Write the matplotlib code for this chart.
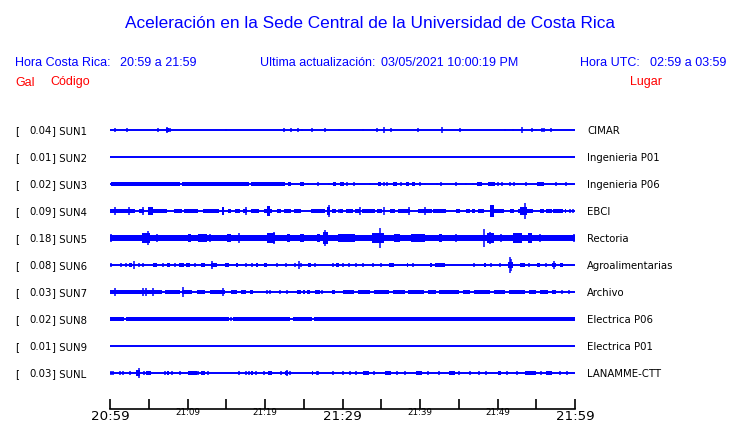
import matplotlib
matplotlib.use("Agg")
import matplotlib.pyplot as plt

# ---------------------------------------------------------------------------
# data
# ---------------------------------------------------------------------------
codes = ["SUN1", "SUN2", "SUN3", "SUN4", "SUN5", "SUN6", "SUN7", "SUN8", "SUN9", "SUNL"]
gal = ["0.04", "0.01", "0.02", "0.09", "0.18", "0.08", "0.03", "0.02", "0.01", "0.03"]
places = ["CIMAR", "Ingenieria P01", "Ingenieria P06", "EBCI", "Rectoria",
          "Agroalimentarias", "Archivo", "Electrica P06", "Electrica P01", "LANAMME-CTT"]

tick_minutes = [0, 5, 10, 15, 20, 25, 30, 35, 40, 45, 50, 55, 60]
tick_labels = ["20:59", "", "21:09", "", "21:19", "", "21:29", "", "21:39", "", "21:49", "", "21:59"]
big_labels = ["20:59", "21:29", "21:59"]

# bursts of shaking: (start minute, end minute, half amplitude)
# spikes: (minute, half amplitude)
sun1_bands = [(7.2, 7.6, 3)]
sun1_spikes = [(0.7, 2), (2.2, 2), (6.2, 2), (7.4, 4), (7.8, 2), (15.0, 1.5), (22.5, 2),
               (23.4, 2), (24.3, 2), (24.8, 1.5), (26.0, 2), (27.8, 2), (29.6, 1.5),
               (32.7, 1), (34.5, 2), (35.4, 4), (36.2, 2), (39.7, 2), (42.9, 4), (45.1, 2),
               (51.0, 1.5), (52.0, 1.5), (53.2, 4), (54.4, 2), (55.0, 1.5), (55.7, 2),
               (56.0, 2), (56.9, 2)]

sun2_bands = []
sun2_spikes = []

sun3_bands = [(0.1, 9.0, 2.5), (9.3, 17.9, 2.5), (18.2, 22.6, 2.5), (23.0, 23.3, 2),
              (24.5, 25.0, 2.5), (28.8, 29.2, 2), (29.7, 30.2, 2.5), (34.6, 35.0, 2.5),
              (36.5, 37.0, 2.5), (38.2, 38.6, 2.5), (39.0, 39.4, 2.5), (47.4, 48.0, 2.5),
              (48.8, 49.7, 2.5), (55.1, 56.0, 2.5)]
sun3_spikes = [(25.6, 1.5), (26.8, 2), (28.2, 1.5), (30.6, 2), (31.5, 2), (33.5, 1.5),
               (35.3, 2), (35.7, 2), (37.6, 2), (40.0, 2), (40.6, 1.5), (42.2, 1.5),
               (42.7, 2), (44.6, 2), (45.9, 1), (46.8, 1.5), (50.1, 2), (50.6, 2),
               (51.6, 2), (52.1, 2), (52.7, 1.5), (53.7, 2), (57.6, 2), (58.1, 1.5),
               (58.9, 2)]

sun4_bands = [(0.0, 3.2, 3), (3.7, 4.4, 3), (4.9, 5.6, 5), (5.6, 7.4, 3), (8.2, 9.3, 3),
              (9.6, 11.4, 3), (12.0, 14.0, 3), (14.4, 14.7, 5), (15.2, 15.6, 3),
              (16.1, 16.8, 3), (17.1, 17.7, 3), (18.2, 19.2, 3), (19.9, 20.9, 3),
              (20.3, 20.6, 6), (21.5, 22.1, 3), (22.4, 23.3, 3), (23.8, 24.7, 3),
              (25.9, 27.7, 3), (28.0, 28.4, 5), (28.6, 29.1, 3), (29.7, 30.0, 3),
              (30.5, 31.4, 3), (31.6, 32.3, 3), (32.5, 34.2, 3), (34.5, 35.1, 3),
              (36.1, 36.8, 3), (37.2, 38.7, 3), (39.7, 41.5, 3), (41.7, 43.4, 3),
              (44.7, 45.2, 3), (45.9, 46.5, 3), (46.7, 47.1, 3), (47.5, 48.2, 3),
              (49.0, 49.5, 7), (49.5, 50.8, 3), (51.6, 52.1, 3), (52.7, 54.6, 3),
              (52.9, 53.8, 5), (55.5, 56.0, 3), (56.3, 57.0, 3), (57.2, 58.4, 3),
              (58.7, 58.9, 3)]
sun4_spikes = [(0.6, 5), (2.4, 5), (4.3, 5), (17.6, 5), (20.5, 6), (28.2, 7), (29.6, 3),
               (32.2, 5), (35.3, 5), (38.6, 5), (40.7, 5), (49.2, 8), (53.5, 10),
               (59.4, 2), (59.8, 2)]

sun5_bands = [(0.0, 60.0, 4), (4.1, 5.2, 6), (10.1, 10.5, 5), (11.4, 12.5, 5),
              (15.1, 15.6, 5), (20.2, 21.3, 6), (22.8, 23.2, 5), (24.5, 25.0, 5),
              (26.7, 27.1, 5), (27.5, 28.1, 7), (29.4, 31.6, 5), (33.8, 35.3, 6),
              (36.6, 37.4, 5), (38.9, 40.6, 5), (42.4, 42.8, 5), (48.6, 49.5, 6),
              (52.0, 53.1, 6), (53.9, 54.4, 6)]
sun5_spikes = [(0.1, 5), (4.9, 9), (6.0, 5), (12.9, 5), (16.6, 6), (21.1, 8), (27.7, 10),
               (34.8, 12), (44.7, 5), (48.3, 11.5), (49.0, 8), (50.5, 5), (55.5, 5),
               (59.9, 5)]

sun6_bands = [(2.4, 2.8, 3), (5.6, 6.1, 3), (7.4, 7.7, 3), (8.9, 9.6, 3), (9.8, 10.3, 3),
              (11.8, 12.2, 3), (13.0, 13.8, 3), (14.8, 15.4, 3), (16.2, 16.5, 3),
              (18.9, 19.1, 3), (19.9, 20.3, 3), (25.6, 25.9, 3), (29.2, 29.5, 3),
              (36.0, 36.6, 3), (38.3, 38.5, 3), (41.3, 41.5, 3), (41.9, 43.2, 3),
              (48.2, 48.5, 3), (51.4, 52.0, 4), (52.9, 53.6, 3), (55.1, 55.5, 3),
              (57.0, 57.5, 3), (58.1, 58.5, 3)]
sun6_spikes = [(0.1, 3), (1.4, 3), (2.0, 2), (3.05, 5), (3.7, 3), (4.2, 3), (6.8, 3),
               (8.4, 2), (11.0, 3), (13.1, 5), (17.6, 2), (18.3, 2), (21.5, 3), (22.7, 2),
               (23.9, 2), (24.4, 5), (24.7, 2), (26.5, 2), (28.8, 3), (30.1, 2), (30.9, 2),
               (31.8, 2), (32.6, 3), (33.9, 2), (35.0, 3), (39.1, 3), (47.0, 2), (49.2, 2),
               (50.3, 2), (51.6, 10), (51.8, 7), (54.0, 2), (56.3, 2), (57.3, 5)]

sun7_bands = [(0.0, 6.7, 3), (7.1, 9.0, 3), (9.3, 10.6, 3), (11.2, 12.3, 3), (12.9, 14.9, 3),
              (15.6, 16.4, 3), (16.9, 17.5, 3), (18.1, 18.4, 3), (24.1, 24.6, 3),
              (24.9, 25.1, 3), (25.4, 25.8, 3), (26.4, 27.1, 3), (28.6, 29.0, 3),
              (30.1, 31.5, 3), (32.0, 33.5, 3), (34.0, 36.0, 3), (36.5, 38.0, 3),
              (38.5, 40.5, 3), (41.0, 42.0, 3), (42.5, 45.0, 3), (45.5, 46.5, 3),
              (47.0, 49.0, 3), (49.5, 51.0, 3), (51.5, 53.5, 3), (54.0, 55.0, 3),
              (55.5, 56.5, 3), (57.0, 57.5, 3)]
sun7_spikes = [(0.6, 5), (4.2, 5), (4.7, 5), (5.6, 5), (9.4, 6), (14.6, 5), (20.3, 2),
               (20.7, 2), (21.9, 2), (22.8, 2), (27.4, 2), (58.3, 2), (59.2, 2)]

sun8_bands = [(0.0, 1.8, 3), (2.1, 15.4, 3), (15.9, 23.2, 3), (23.6, 26.0, 3),
              (26.3, 60.0, 3)]
sun8_spikes = [(0.2, 3), (15.6, 2)]

sun9_bands = []
sun9_spikes = []

sunl_bands = [(3.4, 3.9, 4), (4.7, 5.3, 2), (7.4, 7.6, 2), (10.0, 10.4, 3), (10.4, 11.2, 2),
              (11.8, 12.3, 3), (18.2, 18.5, 3), (20.4, 20.9, 2), (22.6, 23.0, 3),
              (26.0, 26.2, 2), (32.6, 33.4, 3), (35.5, 36.2, 2), (39.5, 40.2, 3),
              (43.8, 44.5, 2), (50.0, 50.5, 3), (53.5, 55.0, 3), (56.2, 57.0, 2)]
sunl_spikes = [(0.1, 3), (0.4, 3), (1.3, 2), (1.7, 2), (2.6, 2), (3.7, 6), (4.4, 2),
               (7.1, 2), (8.0, 2), (9.0, 2), (11.4, 2), (12.6, 2), (16.7, 2), (17.6, 2),
               (17.9, 2), (18.8, 2), (19.9, 2), (22.1, 2), (22.8, 4), (23.2, 2),
               (26.7, 2), (26.9, 2), (28.8, 2), (30.1, 2), (31.0, 2), (31.8, 2),
               (34.0, 2), (37.0, 2), (38.0, 2), (41.0, 2), (42.5, 2), (45.0, 2),
               (46.5, 2), (47.6, 2), (48.5, 2), (51.2, 2), (52.5, 2), (55.6, 2),
               (58.0, 2), (59.0, 2)]

all_bands = [sun1_bands, sun2_bands, sun3_bands, sun4_bands, sun5_bands,
             sun6_bands, sun7_bands, sun8_bands, sun9_bands, sunl_bands]
all_spikes = [sun1_spikes, sun2_spikes, sun3_spikes, sun4_spikes, sun5_spikes,
              sun6_spikes, sun7_spikes, sun8_spikes, sun9_spikes, sunl_spikes]

# ---------------------------------------------------------------------------
# figure
# ---------------------------------------------------------------------------
W, H = 740, 423
BLUE = "#0000ff"
AMP = 0.8 / 27.0   # one trace spacing = 27 px


def py(px):
    # pixel row (from top) -> figure fraction
    return 1 - px / H


fig = plt.figure(figsize=(W / 100, H / 100), dpi=100)
ax = fig.add_axes([110 / W, py(409), 465 / W, 294 / H])
ax.set_xlim(0, 60)
ax.set_ylim((409 - 130) / 27, (115 - 130) / 27)

for i in range(len(codes)):
    ax.hlines(i, 0, 60, color=BLUE, lw=1.4)
    for start, end, a in all_bands[i]:
        ax.broken_barh([(start, end - start)], (i - a * AMP, 2 * a * AMP),
                       facecolor=BLUE, edgecolor="none")
    for t, a in all_spikes[i]:
        ax.vlines(t, i - a * AMP, i + a * AMP, color=BLUE, lw=1.1)

for s in ["top", "left", "right"]:
    ax.spines[s].set_visible(False)
ax.spines["bottom"].set_linewidth(1.2)
ax.set_yticks([])
ax.set_xticks(tick_minutes)
ax.set_xticklabels(tick_labels)
ax.tick_params(axis="x", direction="in", length=7, width=1.2, pad=1)
for lab in ax.get_xticklabels():
    lab.set_fontfamily("DejaVu Sans")
    if lab.get_text() in big_labels:
        lab.set_fontsize(9.6)
    else:
        lab.set_fontsize(6.3)
        lab.set_y(0.008)

# station labels
lbl = dict(fontsize=7.3, va="baseline", family="DejaVu Sans")
for i in range(len(codes)):
    y = py(130 + 27 * i + 3.7)
    fig.text(15 / W, y, "[", **lbl)
    fig.text(52 / W, y, gal[i], ha="right", **lbl)
    fig.text(52 / W, y, "] " + codes[i], **lbl)
    fig.text(587 / W, y, places[i], **lbl)

# header
hdr = dict(family="Liberation Sans", va="baseline", fontsize=9)
fig.text(0.5, py(28), "Aceleración en la Sede Central de la Universidad de Costa Rica",
         ha="center", color=BLUE, family="Liberation Sans", va="baseline", fontsize=12.4)
fig.text(15 / W, py(65.5), "Hora Costa Rica:", color=BLUE, **hdr)
fig.text(120 / W, py(65.5), "20:59 a 21:59", color=BLUE, **hdr)
fig.text(260 / W, py(65.5), "Ultima actualización:", color=BLUE, **hdr)
fig.text(381 / W, py(65.5), "03/05/2021 10:00:19 PM", color=BLUE, **hdr)
fig.text(580 / W, py(65.5), "Hora UTC:", color=BLUE, **hdr)
fig.text(650 / W, py(65.5), "02:59 a 03:59", color=BLUE, **hdr)
fig.text(15 / W, py(85.5), "Gal", color="red", **hdr)
fig.text(50 / W, py(85.5), "Código", color="red", **hdr)
fig.text(630 / W, py(85.5), "Lugar", color="red", **hdr)

fig.savefig("out.png", dpi=100)
